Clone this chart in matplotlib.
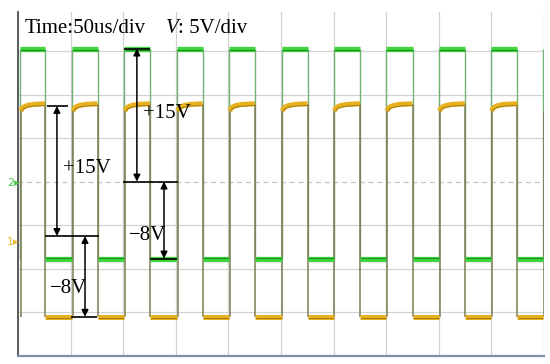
import matplotlib
matplotlib.use('Agg')
import matplotlib.pyplot as plt

# time axis: 50 us/div, 10 div ; voltage axis: 5 V/div
rise_times = [2.0, 51.5, 101.0, 151.0, 200.5, 250.5, 300.0, 350.0, 400.0, 449.5, 499.5]
fall_times = [25.7, 75.6, 125.5, 175.4, 225.3, 275.2, 325.1, 375.0, 424.9, 474.8]

# levels as displayed on screen (V)
green_high = 15.3
green_low = -8.85
yellow_low = -15.55
# yellow high plateau has a rounded start: offsets (us) after rise and level (V)
yellow_shape_t = [0.0, 1.0, 3.0, 6.0, 12.0, 23.7]
yellow_shape_v = [8.1, 8.4, 8.6, 8.75, 8.88, 8.95]

ch2_ground = 0.0
ch1_ground = -6.26

# annotations: (x, y_top, y_bottom)
arrows = [
    (113.0, green_high, ch2_ground),
    (138.8, ch2_ground, green_low),
    (37.0, 8.7, ch1_ground),
    (63.7, ch1_ground, yellow_low),
]
ref_lines = [  # (y, x0, x1)
    (green_high, 100.8, 125.5),
    (ch2_ground, 99.8, 152.0),
    (green_low, 125.5, 151.0),
    (8.7, 27.6, 47.5),
    (ch1_ground, 25.7, 77.0),
    (yellow_low, 50.4, 75.0),
]
labels = [
    ('+15V', 118.8, 7.31),
    ('+15V', 42.8, 0.99),
    ('\u22128V', 105.5, -6.72),
    ('\u22128V', 30.4, -12.81),
]

GREEN = '#3ed43e'
GREEN_DARK = '#1e8a1e'
GREEN_EDGE = '#74b074'
YELLOW = '#e6b01e'
YELLOW_DARK = '#9a7410'
YELLOW_EDGE = '#7e7c56'

plt.rcParams['font.family'] = ['Liberation Serif', 'DejaVu Serif']

fig = plt.figure(figsize=(5.5, 3.64), dpi=100)
ax = fig.add_axes([18 / 550, (364 - 355.5) / 364, 526 / 550, (355.5 - 12) / 364])
ax.set_xlim(0, 500)
ax.set_ylim(-20, 19.5)

ax.set_xticks(range(0, 501, 50))
ax.set_yticks([-15, -10, -5, 5, 10, 15])
ax.tick_params(length=0, labelleft=False, labelbottom=False)
ax.grid(True, color='#d2d2d2', lw=0.9)
ax.axhline(0, color='#c4c4c4', lw=0.9, ls=(0, (4, 3)), zorder=0)

for s in ['top', 'right']:
    ax.spines[s].set_visible(False)
ax.spines['left'].set_color('#505050')
ax.spines['left'].set_linewidth(1.3)
ax.spines['bottom'].set_color('#8090a8')
ax.spines['bottom'].set_linewidth(1.6)

# green trace (channel 2)
for i, r in enumerate(rise_times):
    ax.vlines(r, green_low, green_high, color=GREEN_EDGE, lw=1.0, zorder=2)
    if i < len(fall_times):
        f = fall_times[i]
        ax.hlines(green_high, r, f, color=GREEN, lw=3.8, zorder=3)
        ax.hlines(green_high - 0.2, r + 0.5, f, color=GREEN_DARK, lw=0.7, zorder=4)
        ax.vlines(f, green_low, green_high, color=GREEN_EDGE, lw=1.0, zorder=2)
        ax.hlines(green_low, f, rise_times[i + 1], color=GREEN, lw=3.8, zorder=3)
        ax.hlines(green_low + 0.1, f + 0.5, rise_times[i + 1], color=GREEN_DARK, lw=0.7, zorder=4)

# yellow trace (channel 1)
for i, r in enumerate(rise_times):
    ax.vlines(r + 0.8, yellow_low, yellow_shape_v[0], color=YELLOW_EDGE, lw=1.1, zorder=2)
    if i < len(fall_times):
        f = fall_times[i]
        ts = [r + 0.8 + dt for dt in yellow_shape_t]
        ts[-1] = f
        ax.plot(ts, yellow_shape_v, color=YELLOW, lw=3.6, zorder=3, solid_capstyle='butt')
        ax.plot(ts[1:], [v - 0.2 for v in yellow_shape_v[1:]], color=YELLOW_DARK, lw=0.6, zorder=4)
        ax.vlines(f, yellow_low, yellow_shape_v[-1], color=YELLOW_EDGE, lw=1.1, zorder=2)
        ax.hlines(yellow_low, f, rise_times[i + 1], color=YELLOW, lw=3.6, zorder=3)
        ax.hlines(yellow_low - 0.15, f + 0.5, rise_times[i + 1], color=YELLOW_DARK, lw=0.6, zorder=4)

# measurement annotations
for y, x0, x1 in ref_lines:
    ax.hlines(y, x0, x1, color='black', lw=1.2, zorder=5)
for x, y0, y1 in arrows:
    ax.annotate('', xy=(x, y0), xytext=(x, y1),
                arrowprops=dict(arrowstyle='<|-|>', color='black', lw=1.1,
                                shrinkA=0, shrinkB=0, mutation_scale=10),
                zorder=6)
for txt, x, y in labels:
    ax.text(x, y, txt, fontsize=15, va='baseline', ha='left', color='black', zorder=7)

# header
fig.text(25 / 550, 1 - 33 / 364, 'Time:50us/div', fontsize=15, va='baseline', ha='left')
fig.text(166 / 550, 1 - 33 / 364, 'V', fontsize=15, style='italic', va='baseline', ha='left')
fig.text(178 / 550, 1 - 33 / 364, ': 5V/div', fontsize=15, va='baseline', ha='left')

# channel ground markers
fig.text(7 / 550, 1 - 183 / 364, '2\u25b8', fontsize=8, color='#40c840', va='center',
         ha='left', family='DejaVu Sans')
fig.text(7 / 550, 1 - 242 / 364, '1\u25b8', fontsize=8, color='#e8b830', va='center',
         ha='left', family='DejaVu Sans')

fig.savefig('out.png', dpi=100)
